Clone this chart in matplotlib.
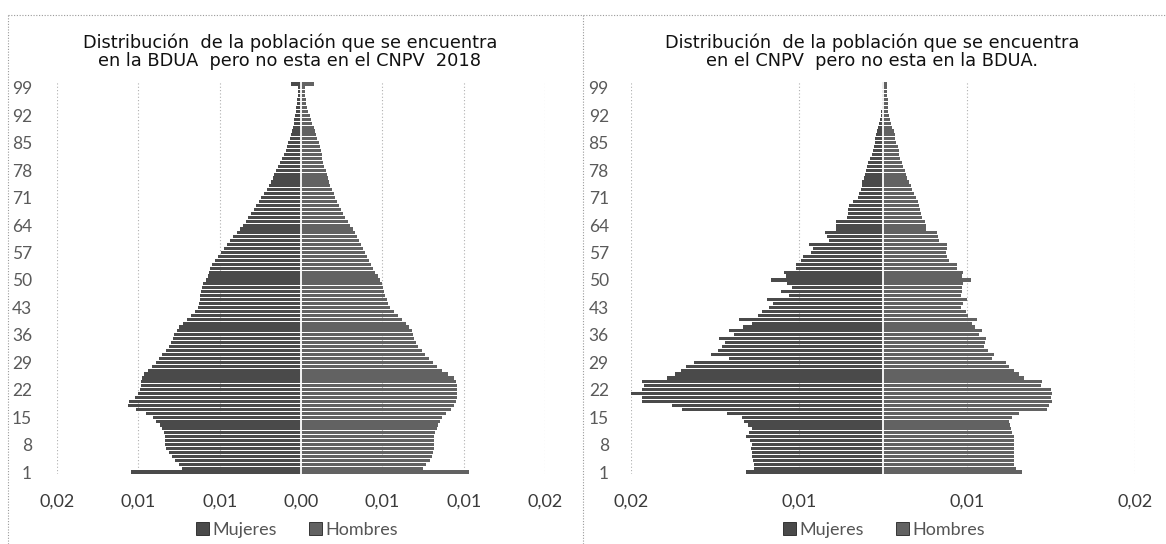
import matplotlib
matplotlib.use("Agg")
import matplotlib.pyplot as plt
from matplotlib.lines import Line2D
from matplotlib.patches import Patch
from matplotlib.ticker import FuncFormatter, FixedLocator
from decimal import Decimal, ROUND_HALF_UP

# ---------------- data ----------------
ages = list(range(1, 101))
ytick_ages = list(range(1, 100, 7))

# Left: population in BDUA but not in CNPV 2018 (share of total)
mujeres_bdua = [
    0.01046, 0.00732, 0.00750, 0.00775, 0.00793, 0.00812, 0.00830, 0.00836, 0.00836, 0.00836,
    0.00843, 0.00855, 0.00867, 0.00892, 0.00910, 0.00953, 0.01015, 0.01064, 0.01058, 0.01021,
    0.01002, 0.00990, 0.00984, 0.00984, 0.00978, 0.00966, 0.00941, 0.00916, 0.00892, 0.00873,
    0.00855, 0.00830, 0.00812, 0.00800, 0.00787, 0.00781, 0.00763, 0.00750, 0.00726, 0.00701,
    0.00677, 0.00652, 0.00633, 0.00627, 0.00621, 0.00618, 0.00615, 0.00609, 0.00603, 0.00584,
    0.00572, 0.00566, 0.00560, 0.00547, 0.00529, 0.00510, 0.00492, 0.00474, 0.00455, 0.00437,
    0.00415, 0.00394, 0.00375, 0.00357, 0.00338, 0.00323, 0.00308, 0.00292, 0.00277, 0.00261,
    0.00246, 0.00228, 0.00212, 0.00197, 0.00185, 0.00175, 0.00166, 0.00154, 0.00141, 0.00129,
    0.00117, 0.00105, 0.00095, 0.00086, 0.00077, 0.00068, 0.00062, 0.00055, 0.00049, 0.00046,
    0.00043, 0.00037, 0.00031, 0.00028, 0.00025, 0.00022, 0.00018, 0.00018, 0.00018, 0.00060,
]
hombres_bdua = [
    0.01033, 0.00750, 0.00769, 0.00793, 0.00806, 0.00812, 0.00818, 0.00818, 0.00818, 0.00818,
    0.00824, 0.00836, 0.00843, 0.00855, 0.00867, 0.00892, 0.00923, 0.00941, 0.00953, 0.00959,
    0.00959, 0.00959, 0.00959, 0.00953, 0.00941, 0.00904, 0.00867, 0.00836, 0.00812, 0.00787,
    0.00763, 0.00744, 0.00720, 0.00707, 0.00695, 0.00689, 0.00683, 0.00664, 0.00646, 0.00621,
    0.00597, 0.00572, 0.00547, 0.00535, 0.00526, 0.00517, 0.00510, 0.00504, 0.00498, 0.00486,
    0.00474, 0.00455, 0.00443, 0.00431, 0.00418, 0.00406, 0.00394, 0.00381, 0.00369, 0.00357,
    0.00344, 0.00332, 0.00317, 0.00301, 0.00286, 0.00271, 0.00258, 0.00246, 0.00234, 0.00221,
    0.00209, 0.00200, 0.00191, 0.00181, 0.00172, 0.00166, 0.00160, 0.00151, 0.00141, 0.00135,
    0.00132, 0.00129, 0.00123, 0.00117, 0.00111, 0.00101, 0.00092, 0.00086, 0.00077, 0.00068,
    0.00062, 0.00055, 0.00043, 0.00037, 0.00031, 0.00028, 0.00025, 0.00025, 0.00025, 0.00078,
]

# Right: population in CNPV but not in BDUA (share of total)
mujeres_cnpv = [
    0.00815, 0.00768, 0.00768, 0.00774, 0.00780, 0.00780, 0.00786, 0.00780, 0.00792, 0.00815,
    0.00798, 0.00780, 0.00804, 0.00827, 0.00839, 0.00929, 0.01196, 0.01256, 0.01434, 0.01434,
    0.01512, 0.01434, 0.01423, 0.01434, 0.01286, 0.01238, 0.01202, 0.01173, 0.01125, 0.00917,
    0.01024, 0.00982, 0.00958, 0.00940, 0.00976, 0.00887, 0.00917, 0.00833, 0.00780, 0.00857,
    0.00744, 0.00720, 0.00679, 0.00655, 0.00690, 0.00560, 0.00607, 0.00542, 0.00571, 0.00667,
    0.00577, 0.00589, 0.00518, 0.00518, 0.00488, 0.00476, 0.00429, 0.00417, 0.00440, 0.00321,
    0.00333, 0.00345, 0.00280, 0.00280, 0.00280, 0.00214, 0.00208, 0.00208, 0.00202, 0.00179,
    0.00149, 0.00143, 0.00131, 0.00125, 0.00125, 0.00113, 0.00107, 0.00101, 0.00095, 0.00089,
    0.00077, 0.00065, 0.00060, 0.00054, 0.00048, 0.00048, 0.00042, 0.00036, 0.00030, 0.00024,
    0.00015, 0.00012, 0.00009, 0.00006, 0.00006, 0.00006, 0.00006, 0.00006, 0.00006, 0.00006,
]
hombres_cnpv = [
    0.00827, 0.00792, 0.00780, 0.00780, 0.00780, 0.00780, 0.00780, 0.00780, 0.00780, 0.00780,
    0.00768, 0.00762, 0.00756, 0.00750, 0.00768, 0.00809, 0.00976, 0.00988, 0.01006, 0.01000,
    0.01006, 0.01000, 0.00940, 0.00946, 0.00839, 0.00809, 0.00780, 0.00750, 0.00732, 0.00649,
    0.00661, 0.00625, 0.00601, 0.00607, 0.00613, 0.00571, 0.00589, 0.00548, 0.00530, 0.00560,
    0.00506, 0.00494, 0.00464, 0.00476, 0.00500, 0.00464, 0.00470, 0.00470, 0.00476, 0.00524,
    0.00470, 0.00476, 0.00440, 0.00440, 0.00393, 0.00381, 0.00375, 0.00381, 0.00381, 0.00333,
    0.00327, 0.00321, 0.00256, 0.00256, 0.00250, 0.00232, 0.00226, 0.00220, 0.00214, 0.00208,
    0.00196, 0.00185, 0.00173, 0.00167, 0.00155, 0.00143, 0.00137, 0.00131, 0.00119, 0.00113,
    0.00101, 0.00095, 0.00095, 0.00089, 0.00077, 0.00074, 0.00071, 0.00065, 0.00054, 0.00048,
    0.00042, 0.00036, 0.00030, 0.00027, 0.00027, 0.00027, 0.00024, 0.00024, 0.00024, 0.00024,
]

titles = [
    "Distribución  de la población que se encuentra\nen la BDUA  pero no esta en el CNPV  2018",
    "Distribución  de la población que se encuentra\nen el CNPV  pero no esta en la BDUA.",
]
legend_labels = ["Mujeres", "Hombres"]
xticks_left = [-0.015, -0.01, -0.005, 0.0, 0.005, 0.01, 0.015]
xticks_right = [-0.015, -0.005, 0.005, 0.015]

# ---------------- style ----------------
W, H = 1166, 544
fig = plt.figure(figsize=(W / 100, H / 100), dpi=100)
fig.patch.set_facecolor("white")

C_MUJ = "#4a4a4a"
C_HOM = "#626262"
TICK_FONT = ["Lato", "DejaVu Sans"]
TITLE_FONT = ["DejaVu Sans"]


def fmt(v, _pos=None):
    d = Decimal(str(abs(v))).quantize(Decimal("0.01"), rounding=ROUND_HALF_UP)
    return str(d).replace(".", ",")


def px_axes(x0, x1, y0, y1):
    return fig.add_axes([x0 / W, 1 - y1 / H, (x1 - x0) / W, (y1 - y0) / H])


panels = [
    dict(rect=(57, 545, 82, 474), muj=mujeres_bdua, hom=hombres_bdua,
         xt=xticks_left, title=titles[0], tx=290, lx=297, ypad=18),
    dict(rect=(631, 1135, 82, 474), muj=mujeres_cnpv, hom=hombres_cnpv,
         xt=xticks_right, title=titles[1], tx=872, lx=884, ypad=16),
]

for p in panels:
    ax = px_axes(*p["rect"])
    ax.set_facecolor("white")
    ax.barh(ages, [-v for v in p["muj"]], height=0.8, color=C_MUJ,
            linewidth=0, label=legend_labels[0], zorder=2)
    ax.barh(ages, p["hom"], height=0.8, color=C_HOM,
            linewidth=0, label=legend_labels[1], zorder=2)
    ax.axvline(0, color="white", lw=1.3, zorder=3)
    ax.set_xlim(-0.015, 0.015)
    ax.set_ylim(0.5, 100.5)
    ax.xaxis.set_major_locator(FixedLocator(p["xt"]))
    ax.xaxis.set_major_formatter(FuncFormatter(fmt))
    ax.set_yticks(ytick_ages)
    ax.set_yticklabels([str(a) for a in ytick_ages])
    for s in ax.spines.values():
        s.set_visible(False)
    ax.tick_params(axis="both", length=0)
    ax.tick_params(axis="y", pad=p["ypad"], labelsize=12.5, labelcolor="#5a5a5a")
    ax.tick_params(axis="x", pad=14, labelsize=13, labelcolor="#3a3a3a")
    for lab in ax.get_xticklabels() + ax.get_yticklabels():
        lab.set_family(TICK_FONT)
    ax.grid(axis="x", color="#b0b0b0", linestyle=(0, (1, 2)), lw=0.8, zorder=0)
    ax.set_axisbelow(True)

    fig.text(p["tx"] / W, 1 - 52 / H, p["title"], ha="center", va="center",
             fontsize=12.8, family=TITLE_FONT, color="#111111", linespacing=0.98)

    handles = [Patch(facecolor=C_MUJ, edgecolor="#222222", lw=0.6),
               Patch(facecolor=C_HOM, edgecolor="#222222", lw=0.6)]
    leg = fig.legend(handles, legend_labels, loc="center",
                     bbox_to_anchor=(p["lx"] / W, 1 - 530 / H), ncol=2,
                     frameon=False, handlelength=0.7,
                     handleheight=0.7, handletextpad=0.2, columnspacing=1.8,
                     borderaxespad=0, borderpad=0,
                     prop={"family": TICK_FONT, "size": 13})
    for t in leg.get_texts():
        t.set_color("#555555")

# chart frame lines (dotted borders from the scanned document)
for (x0, y0, x1, y1) in [(8, 15, 1166, 15), (8, 15, 8, 544), (583, 15, 583, 544)]:
    fig.add_artist(Line2D([x0 / W, x1 / W], [1 - y0 / H, 1 - y1 / H],
                          transform=fig.transFigure, color="#9a9a9a",
                          lw=0.8, linestyle=(0, (1, 1.5))))

fig.savefig("out.png", dpi=100, facecolor="white")
